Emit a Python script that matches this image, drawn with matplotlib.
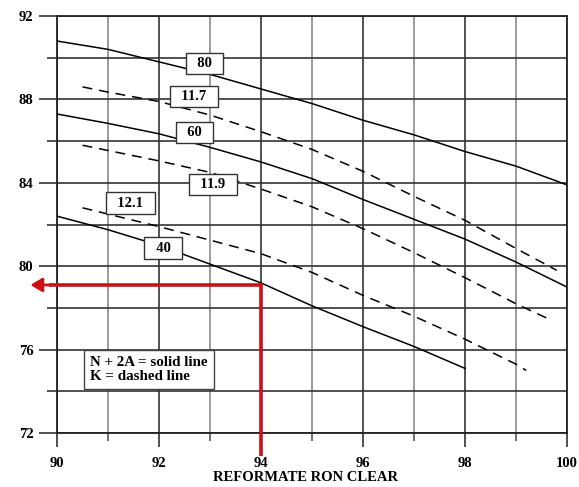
import matplotlib
matplotlib.use("Agg")
import matplotlib.pyplot as plt
from matplotlib.ticker import MultipleLocator

# ---- data ----
x_full = [90, 91, 92, 93, 94, 95, 96, 97, 98, 99, 100]
napht_80 = [90.8, 90.4, 89.8, 89.2, 88.5, 87.8, 87.0, 86.3, 85.5, 84.8, 83.9]
napht_60 = [87.3, 86.85, 86.35, 85.7, 85.0, 84.2, 83.2, 82.25, 81.3, 80.2, 79.0]
x_40 = [90, 91, 92, 93, 94, 95, 96, 97, 98]
napht_40 = [82.4, 81.75, 81.0, 80.1, 79.2, 78.1, 77.1, 76.15, 75.1]

x_k117 = [90.5, 91, 92, 93, 94, 95, 96, 97, 98, 99, 99.8]
k_117 = [88.6, 88.35, 87.9, 87.25, 86.45, 85.6, 84.55, 83.35, 82.2, 80.85, 79.8]
x_k119 = [90.5, 91, 92, 93, 94, 95, 96, 97, 98, 99, 99.7]
k_119 = [85.8, 85.55, 85.05, 84.5, 83.7, 82.85, 81.8, 80.65, 79.45, 78.2, 77.4]
x_k121 = [90.5, 91, 92, 93, 94, 95, 96, 97, 98, 99, 99.2]
k_121 = [82.8, 82.5, 81.9, 81.25, 80.6, 79.7, 78.6, 77.6, 76.5, 75.3, 75.0]

curve_labels = ["80", "11.7", "60", "11.9", "12.1", "40"]
label_x = [92.89, 92.68, 92.70, 93.06, 91.44, 92.08]
label_y = [89.74, 88.13, 86.43, 83.93, 83.03, 80.87]

arrow_ron = 94
arrow_value = 79.1

xticks = [90, 92, 94, 96, 98, 100]
yticks = [72, 76, 80, 84, 88, 92]
xlabel = "REFORMATE RON CLEAR"
legend_text = "N + 2A = solid line\nK = dashed line"

# ---- figure ----
serif = ["Liberation Serif", "DejaVu Serif"]
plt.rcParams["font.family"] = serif

fig = plt.figure(figsize=(5.79, 4.87), dpi=100)
ax = fig.add_axes([57 / 579, 1 - 433 / 487, 510 / 579, 417 / 487])
ax.set_xlim(90, 100)
ax.set_ylim(72, 92)

ax.xaxis.set_minor_locator(MultipleLocator(1))
ax.yaxis.set_minor_locator(MultipleLocator(2))
ax.set_xticks(xticks)
ax.set_yticks(yticks)
ax.set_xticklabels([str(v) for v in xticks], fontweight="bold", fontsize=10.5)
ax.set_yticklabels([str(v) for v in yticks], fontweight="bold", fontsize=10.5)

ax.grid(which="major", axis="both", color="#333333", lw=1.2)
ax.grid(which="minor", axis="y", color="#333333", lw=1.2)
ax.grid(which="minor", axis="x", color="#8a8a8a", lw=1.2)
ax.set_axisbelow(True)

ax.tick_params(axis="x", which="major", length=10, width=1.2, color="#333333", pad=7)
ax.tick_params(axis="x", which="minor", length=6, width=1.2, color="#555555")
ax.tick_params(axis="y", which="major", length=13, width=1.2, color="#333333", pad=4)
ax.tick_params(axis="y", which="minor", length=7, width=1.2, color="#333333")
for s in ax.spines.values():
    s.set_color("#222222")
    s.set_linewidth(1.3)

ax.set_xlabel(xlabel, fontweight="bold", fontsize=10.5)
ax.xaxis.label.set_va("center")
ax.xaxis.set_label_coords(0.488, -0.106)

lw = 1.1
ax.plot(x_full, napht_80, color="black", lw=lw, zorder=3)
ax.plot(x_full, napht_60, color="black", lw=lw, zorder=3)
ax.plot(x_40, napht_40, color="black", lw=lw, zorder=3)
for xs, ys in [(x_k117, k_117), (x_k119, k_119), (x_k121, k_121)]:
    ax.plot(xs, ys, color="black", lw=lw, dashes=(6.5, 4.5), zorder=3)

for t, lx, ly in zip(curve_labels, label_x, label_y):
    ax.text(lx, ly, "  " + t + "  ", ha="center", va="center", fontsize=10.5,
            fontweight="bold", zorder=5,
            bbox=dict(boxstyle="square,pad=0.28", fc="white", ec="#333333", lw=1.0))

ax.text(90.65, 75.05, legend_text, ha="left", va="center", fontsize=10.8,
        fontweight="bold", linespacing=1.05, zorder=5,
        bbox=dict(boxstyle="square,pad=0.4", fc="white", ec="#444444", lw=1.0))

# red reading arrow
red = "#cc1018"
ax.plot([arrow_ron, arrow_ron, 89.85], [70.9, arrow_value, arrow_value],
        color=red, lw=2.6, clip_on=False, zorder=6, solid_capstyle="butt",
        solid_joinstyle="miter")
ax.annotate("", xy=(89.48, arrow_value), xytext=(89.9, arrow_value),
            xycoords="data", annotation_clip=False,
            arrowprops=dict(arrowstyle="-|>,head_length=0.7,head_width=0.42",
                            color=red, lw=2.0, shrinkA=0, shrinkB=0), zorder=6)

fig.savefig("out.png", dpi=100)
